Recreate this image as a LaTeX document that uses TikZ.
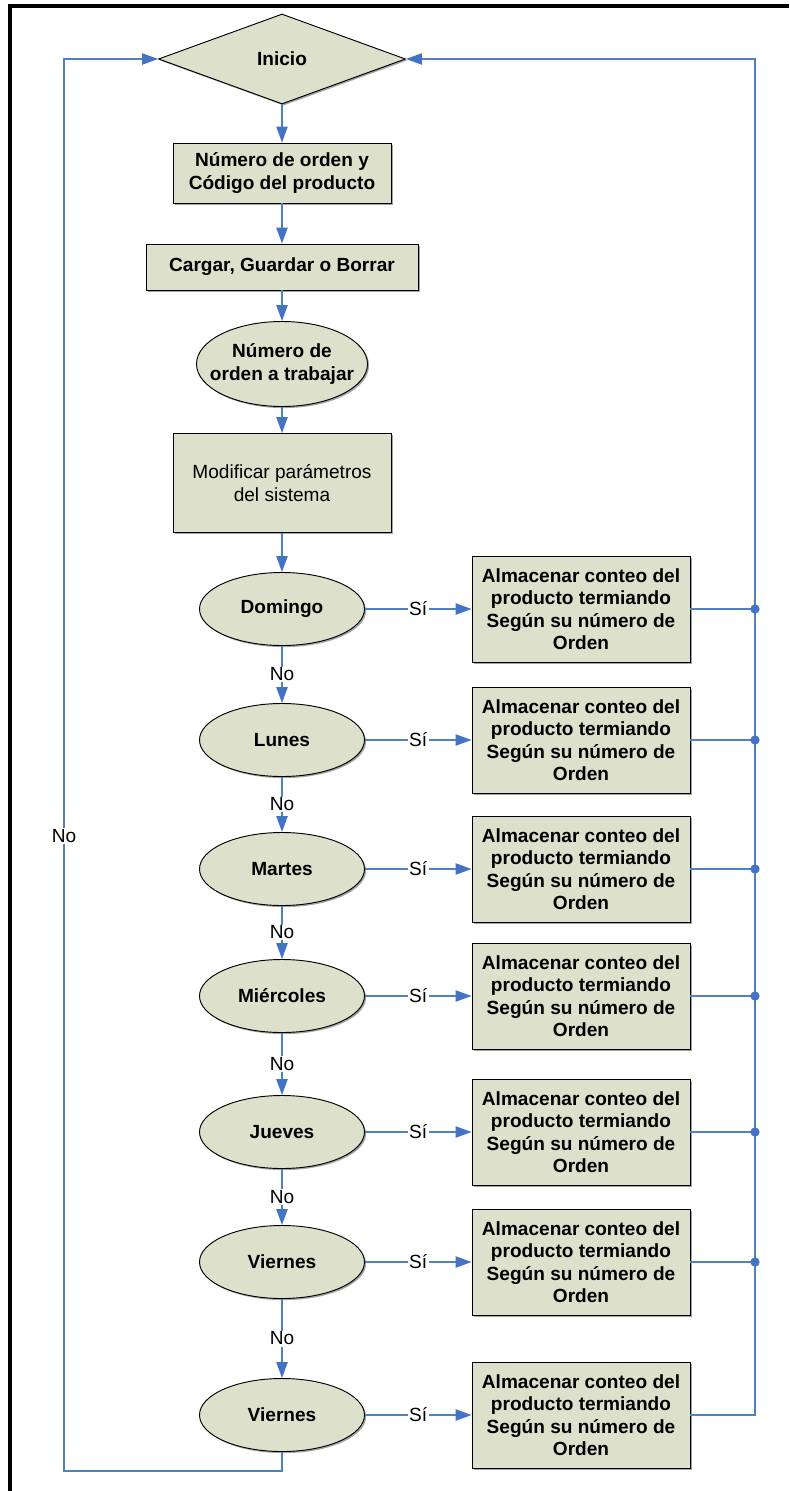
\documentclass[tikz,border=0pt]{standalone}
\usepackage{fontspec}
\setmainfont{Liberation Sans}
\usetikzlibrary{shapes.geometric,arrows.meta,shadows}
\definecolor{fillc}{HTML}{DDE1CB}
\definecolor{linec}{HTML}{4F81BD}
\definecolor{tipc}{HTML}{4472C4}
\tikzset{
  shp/.style={draw=black, line width=0.7pt, fill=fillc, inner sep=0pt,
    drop shadow={shadow xshift=1.2pt, shadow yshift=-1.2pt, fill=black!60, opacity=0.6}},
  bfont/.style={font=\fontsize{14.3}{16.8}\selectfont\bfseries},
  rfont/.style={font=\fontsize{14.3}{16.8}\selectfont},
  boxn/.style={shp, rectangle, align=center, bfont},
  ellip/.style={shp, ellipse, align=center, bfont},
  txt/.style={align=center, bfont, inner sep=0pt},
  line/.style={draw=linec, line width=1pt},
  conn/.style={line, -{Triangle[length=12pt,width=8.5pt,color=tipc]}},
  lbl/.style={fill=white, inner sep=1pt, rfont, text=black},
  dot/.style={fill=tipc}
}
\begin{document}
\begin{tikzpicture}[x=0.75pt,y=-0.75pt]
\useasboundingbox (0,0) rectangle (789,1491);
% frame
\draw[line width=3pt] (789,6) -- (10,6) -- (10,1491);

% main column
\node[shp, diamond, minimum width=185.25pt, minimum height=67.5pt, bfont] (ini) at (282,59) {Inicio};
\node[boxn, minimum width=163.5pt, minimum height=45pt] (b1) at (282,173) {Número de orden y\\Código del producto};
\node[boxn, minimum width=204pt, minimum height=34.5pt] (b2) at (282,267) {Cargar, Guardar o Borrar};
\node[shp, ellipse, minimum width=128.25pt, minimum height=63.75pt] (e0) at (282,364) {};
\node[txt] (e0t) at (282,364) {Número de\\orden a trabajar};
\node[shp, rectangle, align=center, rfont, minimum width=163.5pt, minimum height=74.25pt] (b3) at (282,483) {Modificar parámetros\\del sistema};

\draw[conn] (ini.south) -- (b1.north);
\draw[conn] (b1.south) -- (b2.north);
\draw[conn] (b2.south) -- (e0.north);
\draw[conn] (e0.south) -- (b3.north);

% day rows
\foreach \i/\y/\d in {1/609/Domingo, 2/740/Lunes, 3/869/Martes, 4/996/Miércoles, 5/1132/Jueves, 6/1262/Viernes, 7/1415/Viernes}{
  \node[ellip, minimum width=123.75pt, minimum height=54.75pt] (d\i) at (282,\y) {\d};
  \node[boxn, minimum width=163.5pt, minimum height=79.5pt] (s\i) at (581,\y) {Almacenar conteo del\\producto termiando\\Según su número de\\Orden};
  \coordinate (r\i) at (755,\y);
  \draw[conn] (d\i.east) -- node[lbl]{Sí} (s\i.west);
}
\draw[conn] (b3.south) -- (d1.north);
\foreach \a/\b in {1/2,2/3,3/4,4/5,5/6,6/7}{
  \draw[conn] (d\a.south) -- node[lbl]{No} (d\b.north);
}

% right return
\coordinate (rt) at (755,59);
\foreach \i in {1,...,6}{
  \draw[line] (s\i.east) -- (r\i);
}
\draw[conn] (s7.east) -- (r7) -- (rt) -- (ini.east);
\foreach \i in {1,...,6}{
  \fill[dot] (r\i) circle (3.5pt);
}

% left return
\coordinate (lb) at (282,1471);
\coordinate (lbl) at (64,1471);
\coordinate (lt) at (64,59);
\draw[conn] (d7.south) -- (lb) -- (lbl) -- node[lbl, pos=0.45]{No} (lt) -- (ini.west);
\end{tikzpicture}
\end{document}
